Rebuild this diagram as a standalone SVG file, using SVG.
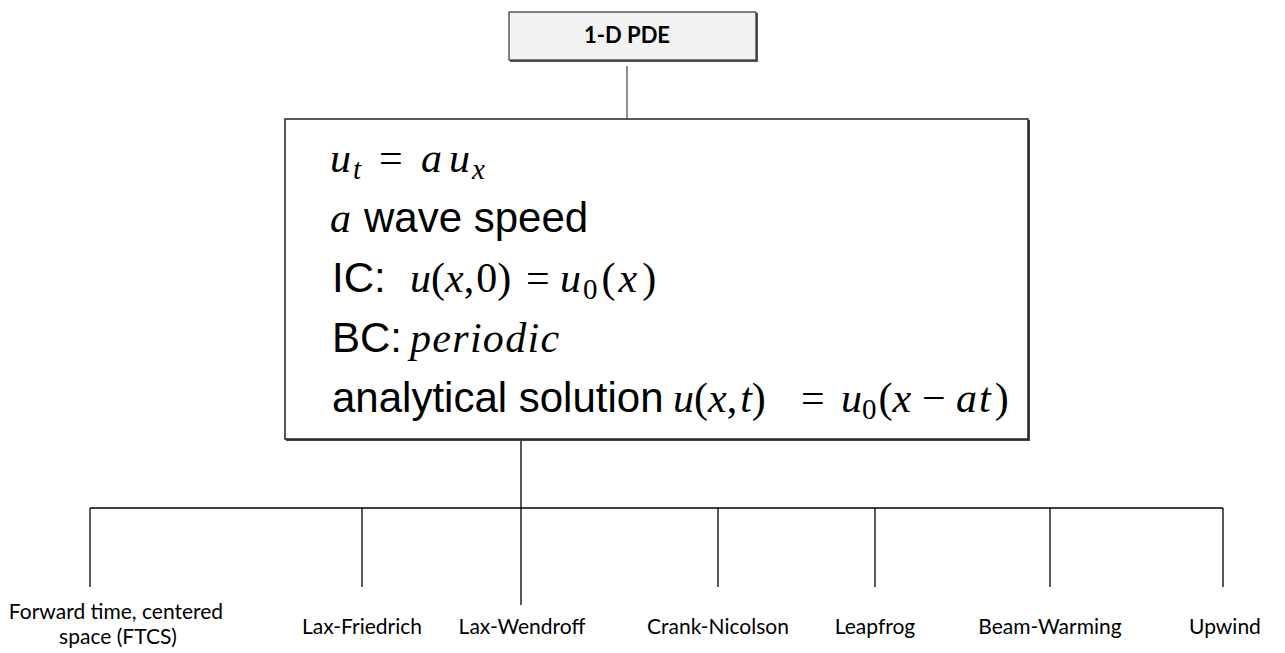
<svg xmlns="http://www.w3.org/2000/svg" width="1285" height="653" viewBox="0 0 1285 653">
<style>
.sans{font-family:"Liberation Sans",Arial,sans-serif;font-size:42px;fill:#000}
.mi{font-family:"Liberation Serif","Times New Roman",serif;font-style:italic;font-size:42px}
.mr{font-family:"Liberation Serif","Times New Roman",serif;font-style:normal;font-size:42px}
.sub{font-size:29px}
.lbl{font-family:Lato,"Liberation Sans",sans-serif;font-size:21px;fill:#000;text-anchor:middle}
.conn line{stroke:#000;stroke-width:1.3}
</style>
<rect width="1285" height="653" fill="#fff"/>
<g id="connectors" class="conn">
<line x1="627" y1="66" x2="627" y2="119" style="stroke:#555"/>
<line x1="521" y1="440" x2="521" y2="508"/>
<line x1="90" y1="508" x2="1223" y2="508"/>
<line x1="90" y1="508" x2="90" y2="587"/>
<line x1="362" y1="508" x2="362" y2="587"/>
<line x1="521" y1="508" x2="521" y2="605"/>
<line x1="718" y1="508" x2="718" y2="587"/>
<line x1="875" y1="508" x2="875" y2="587"/>
<line x1="1050" y1="508" x2="1050" y2="587"/>
<line x1="1223" y1="508" x2="1223" y2="587"/>
</g>
<g id="pde">
<rect x="510" y="13" width="248" height="49" fill="#555"/>
<rect x="509" y="12" width="247" height="48" fill="#f2f2f2" stroke="#333" stroke-width="1.2"/>
<text x="627" y="43" text-anchor="middle" style="font-family:Lato,'Liberation Sans',sans-serif;font-weight:bold;font-size:22px">1-D PDE</text>
</g>
<g id="equation">
<rect x="286" y="120" width="744" height="321" fill="#444"/>
<rect x="285" y="119" width="743" height="320" fill="#fff" stroke="#222" stroke-width="1.5"/>
<text y="172"><tspan class="mi" x="330">u</tspan><tspan class="mi sub" x="353" dy="7">t</tspan><tspan class="mr" x="379" dy="-7">=</tspan><tspan class="mi" x="421">a</tspan><tspan class="mi" x="449">u</tspan><tspan class="mi sub" x="472" dy="7">x</tspan></text>
<text y="232"><tspan class="mi" x="330">a</tspan><tspan class="sans" x="364">wave speed</tspan></text>
<text y="292"><tspan class="sans" x="332">IC:</tspan><tspan class="mi" x="410">u</tspan><tspan class="mr">(</tspan><tspan class="mi">x</tspan><tspan class="mr">,</tspan><tspan class="mr" dx="2">0)</tspan><tspan class="mr" x="526">=</tspan><tspan class="mi" x="560">u</tspan><tspan class="mr sub" dx="2" dy="7">0</tspan><tspan class="mr" dx="4" dy="-7">(</tspan><tspan class="mi" dx="3">x</tspan><tspan class="mr" dx="5">)</tspan></text>
<text y="352"><tspan class="sans" x="332">BC:</tspan><tspan class="mi" x="410" letter-spacing="1.3">periodic</tspan></text>
<text y="412"><tspan class="sans" x="332">analytical solution</tspan><tspan class="mi" x="673">u</tspan><tspan class="mr">(</tspan><tspan class="mi">x</tspan><tspan class="mr">,</tspan><tspan class="mi" dx="3">t</tspan><tspan class="mr">)</tspan><tspan class="mr" x="801">=</tspan><tspan class="mi" x="841">u</tspan><tspan class="mr sub" dy="7">0</tspan><tspan class="mr" dx="2" dy="-7">(</tspan><tspan class="mi">x</tspan><tspan class="mr" x="922">−</tspan><tspan class="mi" x="956">a</tspan><tspan class="mi" dx="2">t</tspan><tspan class="mr" dx="4">)</tspan></text>
</g>
<g id="ftcs"><text class="lbl" x="116" y="619">Forward time, centered</text><text class="lbl" x="118" y="644">space (FTCS)</text></g>
<g id="laxf"><text class="lbl" x="362" y="634">Lax-Friedrich</text></g>
<g id="laxw"><text class="lbl" x="522" y="634">Lax-Wendroff</text></g>
<g id="cn"><text class="lbl" x="718" y="634">Crank-Nicolson</text></g>
<g id="leap"><text class="lbl" x="875" y="634">Leapfrog</text></g>
<g id="beam"><text class="lbl" x="1050" y="634">Beam-Warming</text></g>
<g id="upwind"><text class="lbl" x="1225" y="634">Upwind</text></g>
</svg>
